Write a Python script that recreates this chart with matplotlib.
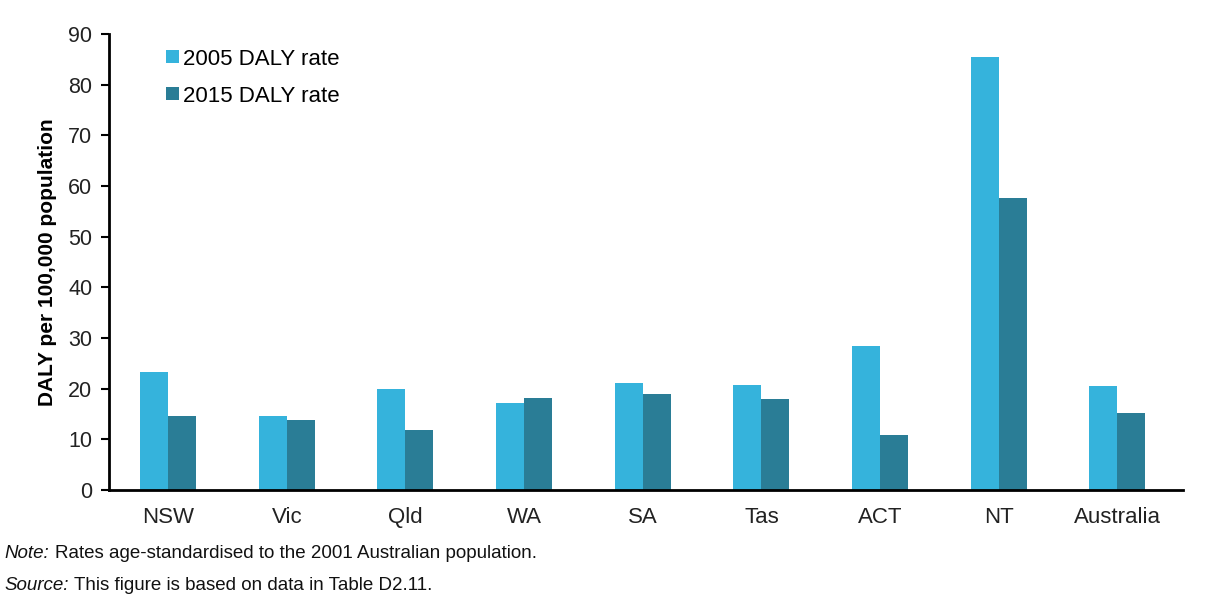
import matplotlib.pyplot as plt
import numpy as np

plt.rcParams['font.family'] = ['Liberation Sans', 'DejaVu Sans']

states = ["NSW", "Vic", "Qld", "WA", "SA", "Tas", "ACT", "NT", "Australia"]
rate_2005 = [23.3, 14.6, 19.9, 17.1, 21.2, 20.7, 28.5, 85.5, 20.5]
rate_2015 = [14.6, 13.8, 11.8, 18.1, 18.9, 17.9, 10.8, 57.6, 15.1]

c2005 = "#35B3DC"
c2015 = "#2A7D96"

fig = plt.figure(figsize=(12.23, 6.01), dpi=100)
ax = fig.add_axes([0.089, 0.1847, 0.878, 0.7587])

x = np.arange(len(states))
w = 0.236
ax.bar(x - w/2, rate_2005, w, color=c2005, label="2005 DALY rate")
ax.bar(x + w/2, rate_2015, w, color=c2015, label="2015 DALY rate")

ax.set_xlim(-0.5, len(states) - 0.45)
ax.set_ylim(0, 90)
ax.set_yticks(range(0, 91, 10))
ax.set_xticks(x)
ax.set_xticklabels(states)
ax.tick_params(axis="x", length=0, pad=12, labelsize=16, colors="#222222")
ax.tick_params(axis="y", length=6, width=1.5, pad=6, labelsize=15.5, labelcolor="#222222")
for s in ["top", "right"]:
    ax.spines[s].set_visible(False)
ax.spines["left"].set_linewidth(2)
ax.spines["bottom"].set_linewidth(2)

ax.set_ylabel("DALY per 100,000 population", fontsize=15, fontweight="bold", labelpad=8)

ax.legend(loc="upper left", bbox_to_anchor=(0.035, 1.012), frameon=False, fontsize=16,
          handlelength=0.55, handleheight=0.55, handletextpad=0.2, labelspacing=0.72)

note_y = 0.072
src_y = 0.018
fig.canvas.draw()
r = fig.canvas.get_renderer()
for yy, lead, rest in [(note_y, "Note:", "Rates age-standardised to the 2001 Australian population."),
                       (src_y, "Source:", "This figure is based on data in Table D2.11.")]:
    t = fig.text(0.004, yy, lead, fontsize=13.5, style="italic", color="#111111")
    bb = t.get_window_extent(renderer=r)
    fig.text(bb.x1 / fig.bbox.width + 0.004, yy, rest, fontsize=13.5, color="#111111")

fig.savefig("out.png", dpi=100)
